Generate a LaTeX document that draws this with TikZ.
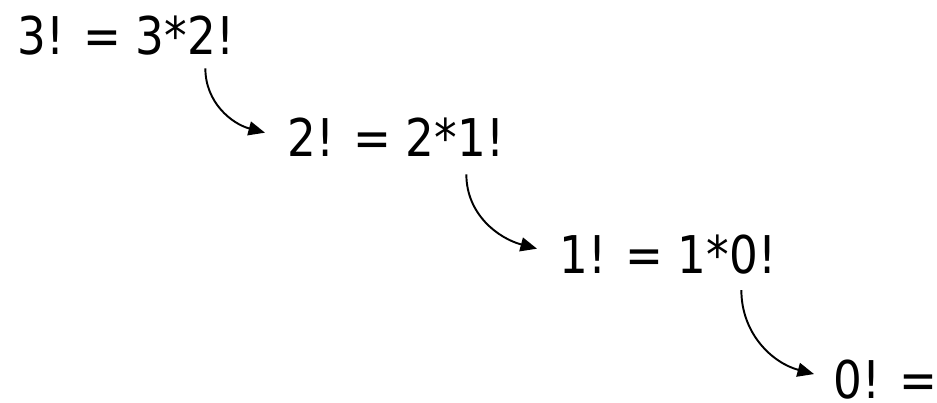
\documentclass[tikz,border=0pt]{standalone}
\usepackage{fontspec}
\setmainfont{DejaVu Sans}[FakeStretch=0.87]
\usetikzlibrary{arrows.meta, positioning}

\begin{document}
\begin{tikzpicture}[
    eq/.style={inner sep=0pt, font=\fontsize{29.6}{34}\selectfont},
    arrow/.style={-{Triangle[length=0.33cm, width=0.28cm]}, line width=1.1pt}
]
\useasboundingbox (0,0) rectangle (18.74,-8.06);

% Row 1: 3!
\node[eq, anchor=base west] (e1) at (0.34,-1.10) {3! = 3*};
\node[eq, base right=0pt of e1] (k1) {2!};

% Row 2: 2!
\node[eq, anchor=base west] (e2) at (5.74,-3.14) {2! = 2*};
\node[eq, base right=0pt of e2] (k2) {1!};

% Row 3: 1!
\node[eq, anchor=base west] (e3) at (11.18,-5.46) {1! = 1*};
\node[eq, base right=0pt of e3] (k3) {0!};

% Row 4: 0!
\node[eq, anchor=base west] (e4) at (16.66,-7.96) {0! =};

% Arrows
\draw[arrow] ([xshift=-0.12cm, yshift=-0.26cm]k1.south) to[out=-90, in=165] ([xshift=-0.44cm, yshift=0.1cm]e2.west);
\draw[arrow] ([xshift=-0.3cm, yshift=-0.34cm]k2.south) to[out=-90, in=165] ([xshift=-0.44cm, yshift=0.1cm]e3.west);
\draw[arrow] ([xshift=-0.24cm, yshift=-0.32cm]k3.south) to[out=-90, in=165] ([xshift=-0.38cm, yshift=0.1cm]e4.west);

\end{tikzpicture}
\end{document}
